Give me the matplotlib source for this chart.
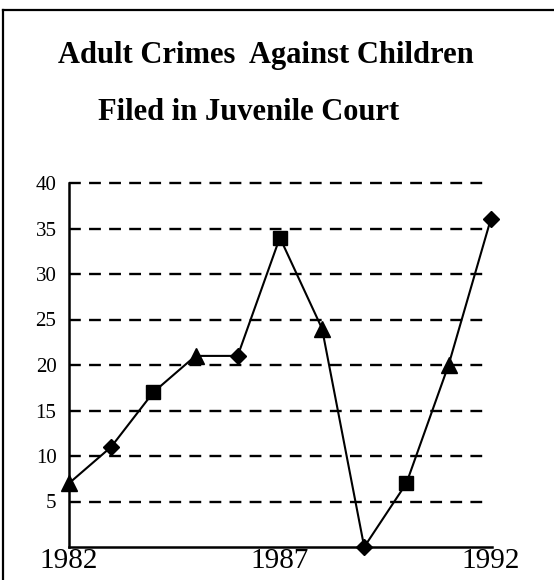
import matplotlib
matplotlib.use("Agg")
import matplotlib.pyplot as plt
from matplotlib.lines import Line2D

years = [1982, 1983, 1984, 1985, 1986, 1987, 1988, 1989, 1990, 1991, 1992]
values = [7, 11, 17, 21, 21, 34, 24, 0, 7, 20, 36]
markers = ['^', 'D', 's', '^', 'D', 's', '^', 'D', 's', '^', 'D']
yticks = [5, 10, 15, 20, 25, 30, 35, 40]
xticks = [1982, 1987, 1992]
title1 = "Adult Crimes  Against Children"
title2 = "Filed in Juvenile Court"

W, H = 554, 580
fig = plt.figure(figsize=(W / 100, H / 100), dpi=100)
fig.patch.set_facecolor('white')

# border box (left & top visible)
fig.add_artist(Line2D([3 / W, 3 / W], [0, 1 - 10 / H], transform=fig.transFigure, color='black', lw=1.6))
fig.add_artist(Line2D([3 / W, 1], [1 - 10 / H, 1 - 10 / H], transform=fig.transFigure, color='black', lw=1.6))

ax = fig.add_axes([69 / W, 1 - 547 / H, (492 - 69) / W, (547 - 183) / H])
ax.set_xlim(1982, 1992.03)
ax.set_ylim(0, 40)
for s in ['top', 'right']:
    ax.spines[s].set_visible(False)
for s in ['left', 'bottom']:
    ax.spines[s].set_linewidth(1.8)
    ax.spines[s].set_color('black')

ax.hlines(yticks, 1982, 1991.83, colors='black', linestyles=(0, (5, 3.5)), lw=1.7, zorder=1, clip_on=False)

ax.plot(years, values, color='black', lw=1.5, zorder=2, clip_on=False)
msize = {'^': 11, 'D': 8.5, 's': 10.5}
for x, y, m in zip(years, values, markers):
    ax.plot([x], [y], marker=m, color='black', markersize=msize[m], zorder=3, clip_on=False, linestyle='none')

ax.set_yticks(yticks)
ax.set_yticklabels([str(t) for t in yticks], fontsize=15, family='Liberation Serif')
ax.tick_params(axis='y', length=0, pad=9)
ax.set_xticks(xticks)
ax.set_xticklabels([str(t) for t in xticks], fontsize=21, family='Liberation Serif')
ax.tick_params(axis='x', length=0, pad=1)

fig.text(266 / W, 1 - 55 / H, title1, ha='center', va='center', fontsize=22,
         fontweight='bold', family='Liberation Serif')
fig.text(249 / W, 1 - 113 / H, title2, ha='center', va='center', fontsize=22,
         fontweight='bold', family='Liberation Serif')

fig.savefig('out.png', dpi=100, facecolor='white')
